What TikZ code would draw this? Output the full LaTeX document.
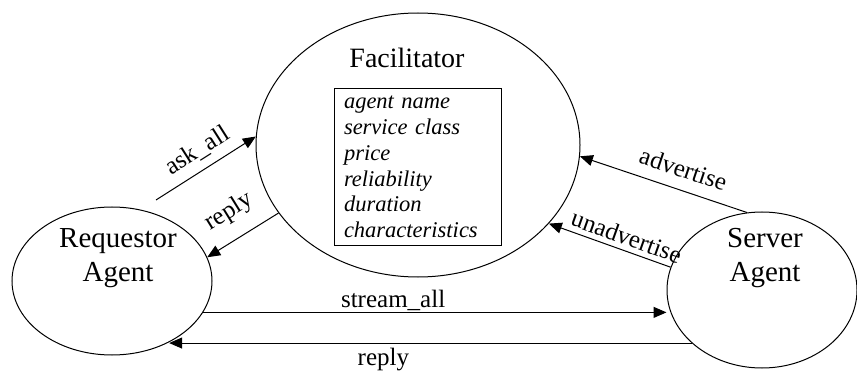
\documentclass[tikz,border=0pt]{standalone}
\usepackage{fontspec}
\setmainfont{Liberation Serif}
\usetikzlibrary{arrows.meta, shapes.geometric, positioning}
\tikzset{
  agent/.style = {draw, ellipse, line width=1pt, inner sep=0pt},
  msg/.style   = {-{Triangle[length=13pt, width=11pt]}, line width=1pt},
  lbl/.style   = {font=\fontsize{25}{30}\selectfont, inner sep=2pt},
  big/.style   = {font=\fontsize{29}{34}\selectfont, align=center, inner sep=0pt},
  attrs/.style = {draw, line width=1pt, font=\fontsize{22.5}{25.8}\selectfont\itshape,
                  align=left, text width=147pt, inner xsep=10pt, inner ysep=0pt,
                  minimum height=156pt},
}

\begin{document}
\begin{tikzpicture}[x=1pt, y=1pt]
  \useasboundingbox (0,0) rectangle (857,370);
  \node[agent, minimum width=324pt, minimum height=264pt] (fac) at (418,225) {};
  \node[agent, minimum width=200pt, minimum height=148pt] (req) at (112,89) {};
  \node[agent, minimum width=190pt, minimum height=156pt] (srv) at (762,80) {};
  \node[big, font=\fontsize{28}{33}\selectfont, anchor=base] (facttl) at (407,302) {Facilitator};
  \node[attrs] (attrlist) at (417.5,203) {agent name\\service class\\price\\reliability\\duration\\characteristics};
  \node[big] (reqtxt) at (118,111.5) {Requestor\\Agent};
  \node[big] (srvtxt) at (765,111.5) {Server\\Agent};
  \draw[msg, shorten <=18pt] (req.68) -- node[lbl, sloped, above=6.5pt, pos=0.58] (lask) {ask\_all} (fac.177);
  \draw[msg] (fac.206) -- node[lbl, sloped, above=13pt, pos=0.49] (lrep) {reply} (req.14);
  \draw[msg] (srv.101) -- node[lbl, sloped, above=9.7pt, pos=0.42] (ladv) {advertise} (fac.-4);
  \draw[msg] (srv.166) -- node[lbl, sloped, above=3pt, pos=0.40] (lunadv) {unadvertise} (fac.-31);
  \draw[msg] (req.-19) -- node[lbl, above=-1pt, pos=0.41] (lstream) {stream\_all} (req.-19 -| srv.west);
  \draw[msg] (srv.217) -- node[lbl, below=3pt, pos=0.59] (lback) {reply} (srv.217 -| req.-47);
\end{tikzpicture}
\end{document}
